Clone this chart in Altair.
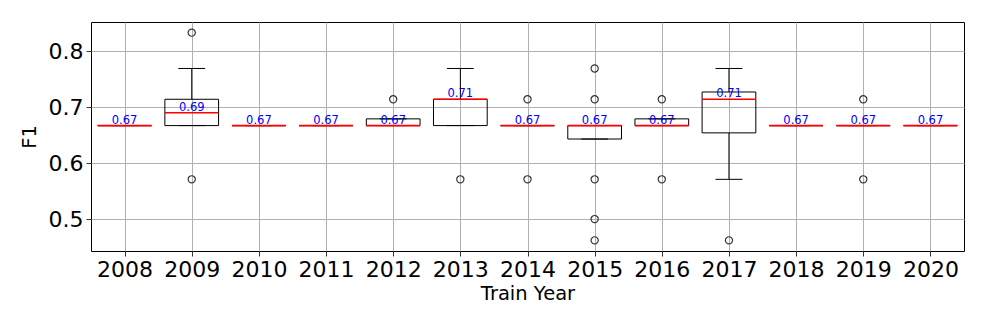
import altair as alt
import pandas as pd

years = [2008, 2009, 2010, 2011, 2012, 2013, 2014, 2015, 2016, 2017, 2018, 2019, 2020]
q1 = [0.667, 0.667, 0.667, 0.667, 0.667, 0.667, 0.667, 0.643, 0.667, 0.654, 0.667, 0.667, 0.667]
q3 = [0.667, 0.714, 0.667, 0.667, 0.679, 0.714, 0.667, 0.667, 0.679, 0.727, 0.667, 0.667, 0.667]
median = [0.667, 0.690, 0.667, 0.667, 0.667, 0.714, 0.667, 0.667, 0.667, 0.714, 0.667, 0.667, 0.667]
whisker_lo = [0.667, 0.667, 0.667, 0.667, 0.667, 0.667, 0.667, 0.643, 0.667, 0.571, 0.667, 0.667, 0.667]
whisker_hi = [0.667, 0.769, 0.667, 0.667, 0.679, 0.769, 0.667, 0.667, 0.679, 0.769, 0.667, 0.667, 0.667]

outlier_years = [2009, 2009, 2012, 2013, 2014, 2014, 2015, 2015, 2015, 2015, 2015, 2016, 2016, 2017, 2019, 2019]
outlier_values = [0.833, 0.571, 0.714, 0.571, 0.714, 0.571, 0.769, 0.714, 0.571, 0.500, 0.462, 0.714, 0.571, 0.462, 0.714, 0.571]

df = pd.DataFrame({"year": years, "q1": q1, "q3": q3, "median": median,
                   "wlo": whisker_lo, "whi": whisker_hi})
df_out = pd.DataFrame({"year": outlier_years, "value": outlier_values})

xscale = alt.Scale(domain=[2007.5, 2020.5], nice=False, zero=False)
yscale = alt.Scale(domain=[0.443, 0.852], nice=False, zero=False)
xaxis = alt.Axis(values=years, format="d", grid=True, title="Train Year")
yaxis = alt.Axis(values=[0.5, 0.6, 0.7, 0.8], format=".1f", grid=True, title="F1")


def X(f):
    return alt.X(f, type="quantitative", scale=xscale, axis=xaxis, title="Train Year")


def Y(f):
    return alt.Y(f, type="quantitative", scale=yscale, axis=yaxis, title="F1")


base = alt.Chart(df).transform_calculate(
    xl="datum.year - 0.4", xr="datum.year + 0.4",
    cl="datum.year - 0.2", cr="datum.year + 0.2")

whisk_hi = base.mark_rule(color="black", strokeWidth=1).encode(
    x=X("year"), y=Y("q3"), y2="whi:Q")
whisk_lo = base.mark_rule(color="black", strokeWidth=1).encode(
    x=X("year"), y=Y("wlo"), y2="q1:Q")
cap_hi = base.mark_rule(color="black", strokeWidth=1).encode(
    x=X("cl"), x2="cr:Q", y=Y("whi"))
cap_lo = base.mark_rule(color="black", strokeWidth=1).encode(
    x=X("cl"), x2="cr:Q", y=Y("wlo"))
box = base.mark_rect(fillOpacity=0, stroke="black", strokeWidth=1).encode(
    x=X("xl"), x2="xr:Q", y=Y("q1"), y2="q3:Q")
med = base.mark_rule(color="#ff0000", strokeWidth=1.6).encode(
    x=X("xl"), x2="xr:Q", y=Y("median"))
labels = base.mark_text(color="blue", fontSize=11.5, font="DejaVu Sans",
                        baseline="alphabetic", dy=-2).encode(
    x=X("year"), y=Y("median"), text=alt.Text("median:Q", format=".2f"))
fliers = alt.Chart(df_out).mark_point(shape="circle", filled=False, color="#333",
                                      size=52, strokeWidth=1.2, opacity=1).encode(
    x=X("year"), y=Y("value"))

chart = alt.layer(whisk_hi, whisk_lo, cap_hi, cap_lo, box, med, fliers, labels).properties(
    width=873, height=229,
    autosize=alt.AutoSizeParams(type="none"),
    padding={"left": 83, "top": 14, "right": 15, "bottom": 70},
).configure_view(
    stroke="black", strokeWidth=1
).configure_axis(
    domain=False,
    gridColor="#b0b0b0", gridWidth=1,
    tickColor="black", tickSize=5, tickWidth=0.8,
    labelFont="DejaVu Sans", labelFontSize=22, labelColor="black", labelPadding=3,
    titleFont="DejaVu Sans", titleFontSize=19.5, titleFontWeight="normal", titleColor="black",
).configure_axisX(titlePadding=4).configure_axisY(titlePadding=9)

chart.save("out.html", embed_options={"renderer": "svg", "actions": False})
